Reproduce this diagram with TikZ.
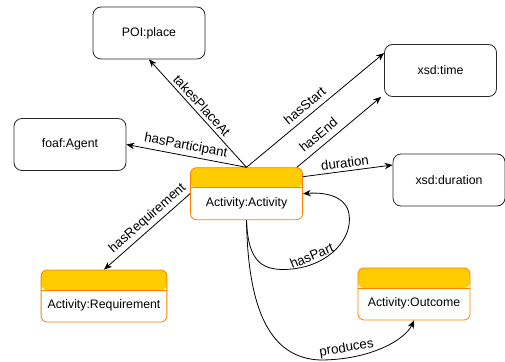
\documentclass[tikz,border=0pt]{standalone}
\usepackage{fontspec}
\setmainfont{Liberation Sans}
\usepackage{tikz}
\usetikzlibrary{arrows.meta}
\definecolor{headyellow}{RGB}{255,204,0}
\definecolor{boxorange}{RGB}{255,128,0}
\definecolor{boxgray}{RGB}{40,40,40}

\begin{document}
\begin{tikzpicture}[>={Stealth[length=8pt,width=6.5pt]}, x=1pt, y=-1pt,
  font=\fontsize{12.3}{14}\selectfont, line width=0.8pt,
  plain/.style={draw=boxgray, rounded corners=8pt, minimum width=112pt, minimum height=52pt},
  class/.style={draw=boxorange, rounded corners=6pt, minimum width=112pt, minimum height=52pt,
    inner xsep=6.5pt, text height=27.8pt, text depth=3pt,
    path picture={
      \fill[headyellow] (path picture bounding box.north west) rectangle ([yshift=-20pt]path picture bounding box.north east);
      \draw[boxorange] ([yshift=-20pt]path picture bounding box.north west) -- ([yshift=-20pt]path picture bounding box.north east);
    }},
  rel/.style={sloped, above, inner sep=3pt, font=\fontsize{13.3}{15}\selectfont}]

\useasboundingbox (0,0) rectangle (505,361);

\node[plain] (poi) at (149,33) {POI:place};
\node[plain] (time) at (440.5,70.5) {xsd:time};
\node[plain] (agent) at (70,144.5) {foaf:Agent};
\node[plain] (dur) at (449,180) {xsd:duration};

\node[class] (act) at (246.5,193.7) {Activity:Activity};
\node[class] (req) at (104,296) {Activity:Requirement};
\node[class] (out) at (414,294) {Activity:Outcome};

% object properties
\draw[->] (act.north) -- node[rel, pos=0.52]{takesPlaceAt} (poi.south);
\draw[->] (act.north) -- node[rel, pos=0.47, inner sep=5pt]{hasStart} (time.west |- 0,53);
\draw[->] ([xshift=-6pt]act.north east) -- node[rel, pos=0.34, inner sep=6pt]{hasEnd} ([xshift=-3pt]time.south west);
\draw[->] (act.north) -- node[rel, pos=0.52]{hasParticipant} (agent.east);
\draw[->] ([yshift=17pt]act.east) -- node[rel, pos=0.48]{duration} ([yshift=15pt]dur.west);
\draw[->] (act.west) -- node[rel, pos=0.42]{hasRequirement} (req.north);

\draw[->] (act.south) .. controls (248,262) and (262,272) .. (292,269)
  .. controls (330,265) and (353,238) .. node[rel, pos=0.22]{hasPart} (349,214)
  .. controls (346,196) and (325,192) .. (act.east);
\draw[->] (act.south) .. controls (248,310) and (270,358) .. (320,360)
  .. controls (370,360) and (405,340) .. node[rel, pos=0.2]{produces} (out.south);

\end{tikzpicture}
\end{document}
